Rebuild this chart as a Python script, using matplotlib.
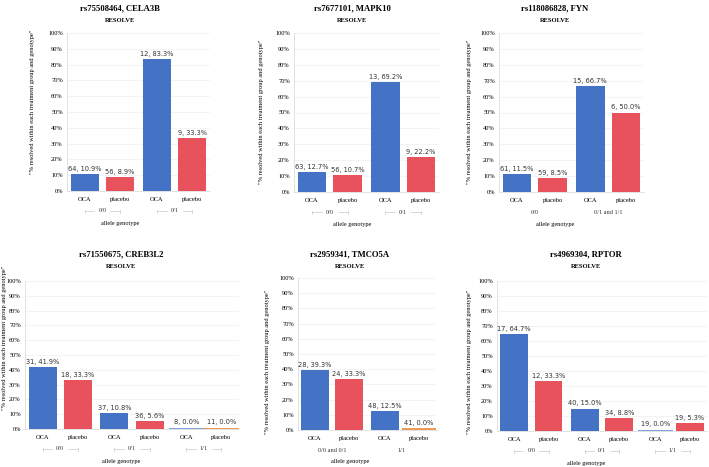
import matplotlib
matplotlib.use('Agg')
import matplotlib.pyplot as plt
from matplotlib.transforms import blended_transform_factory

W, H = 709, 467

titles = ['rs75508464, CELA3B', 'rs7677101, MAPK10', 'rs118086828, FYN',
          'rs71550675, CREB3L2', 'rs2959341, TMCO5A', 'rs4969304, RPTOR']
genotypes = [['0/0', '0/1'], ['0/0', '0/1'], ['0/0', '0/1 and 1/1'],
             ['0/0', '0/1', '1/1'], ['0/0 and 0/1', '1/1'], ['0/0', '0/1', '1/1']]
oca_n = [[64, 12], [63, 13], [61, 15], [31, 37, 8], [28, 48], [17, 40, 19]]
oca_pct = [[10.9, 83.3], [12.7, 69.2], [11.5, 66.7], [41.9, 10.8, 0.0], [39.3, 12.5], [64.7, 15.0, 0.0]]
placebo_n = [[56, 9], [56, 9], [59, 6], [18, 36, 11], [24, 41], [12, 34, 19]]
placebo_pct = [[8.9, 33.3], [10.7, 22.2], [8.5, 50.0], [33.3, 5.6, 0.0], [33.3, 0.0], [33.3, 8.8, 5.3]]
treatments = ['OCA', 'placebo']

# pixel layout: axes (left, right, top, bottom), title centre, ylabel centre
axes_px = [(67, 210, 33, 191), (294, 439, 33, 192), (499, 644, 33, 192),
           (25, 239, 281, 429), (298, 436, 278, 430), (497, 707, 281, 431)]
title_pos = [(120, 8), (352, 8), (555, 8), (121, 254), (350, 254), (586, 254)]
ylabel_pos = [(33, 102), (261, 112), (469, 112), (5, 338), (268, 362), (469, 362)]
dashes = [True, True, False, True, False, True]

BLUE = '#4472c4'
RED = '#e8525c'
ZERO_COLORS = ['#7fa3dc', '#ec9a55']
SERIF = 'Liberation Serif'

fig = plt.figure(figsize=(W / 100, H / 100), dpi=100)


def fx(x):
    return x / W


def fy(y):
    return 1 - y / H


for k in range(6):
    l, r, t, b = axes_px[k]
    ax = fig.add_axes([fx(l), fy(b), fx(r) - fx(l), fy(t) - fy(b)])
    ngroups = len(genotypes[k])
    positions, labels = [], []
    for g in range(ngroups):
        vals = [(oca_n[k][g], oca_pct[k][g]), (placebo_n[k][g], placebo_pct[k][g])]
        for i, (n, p) in enumerate(vals):
            x = g * 2.05 + i
            positions.append(x)
            labels.append(treatments[i])
            if p == 0:
                # zero values are shown as a thin coloured line
                ax.bar(x, 1.0, width=1.0, color=ZERO_COLORS[i], zorder=3)
                top = 1.0
            else:
                ax.bar(x, p, width=0.8, color=BLUE if i == 0 else RED, zorder=3)
                top = p
            ax.annotate(f'{n}, {p:.1f}%', (x, top), xytext=(0, 1.5), textcoords='offset points',
                        ha='center', va='bottom', fontsize=4.8, color='#333333')

    ax.set_xlim(-0.5, positions[-1] + 0.5)
    ax.set_ylim(0, 100)
    ax.set_yticks(range(0, 101, 10))
    ax.set_yticklabels([f'{v}%' for v in range(0, 101, 10)], fontsize=4.6, family=SERIF)
    ax.set_xticks(positions)
    ax.set_xticklabels(labels, fontsize=4.7, family=SERIF)
    ax.tick_params(axis='both', length=0, pad=3)
    ax.tick_params(axis='x', pad=4)
    ax.grid(axis='y', color='#efefef', linewidth=0.5, zorder=0)
    for s in ['top', 'right']:
        ax.spines[s].set_visible(False)
    ax.spines['left'].set_color('#dddddd')
    ax.spines['bottom'].set_color('#dddddd')
    ax.spines['left'].set_linewidth(0.6)
    ax.spines['bottom'].set_linewidth(0.6)

    # genotype group labels under the treatment labels
    trans = blended_transform_factory(ax.transData, ax.transAxes)
    hpx = b - t
    wpx = r - l
    unit = wpx / (positions[-1] + 1.0)
    ylab = -20 / hpx
    for g in range(ngroups):
        x0, x1 = positions[2 * g], positions[2 * g + 1]
        cx = (x0 + x1) / 2
        ax.text(cx, ylab, genotypes[k][g], transform=trans, ha='center', va='center',
                fontsize=4.5, family=SERIF, color='#333333')
        if dashes[k]:
            gap = 8 / unit
            tick = 1.5 / hpx
            for xa, xb in [(x0, cx - gap), (cx + gap, x1)]:
                ax.plot([xa, xb], [ylab, ylab], transform=trans, clip_on=False,
                        color='#bbbbbb', linewidth=0.4)
            for xe in [x0, x1]:
                ax.plot([xe, xe], [ylab - tick, ylab + tick], transform=trans, clip_on=False,
                        color='#bbbbbb', linewidth=0.4)

    tx, ty = title_pos[k]
    fig.text(fx(tx), fy(ty), titles[k], ha='center', va='center', fontsize=6.2,
             fontweight='bold', family=SERIF)
    fig.text(fx(tx), fy(ty + 13), 'RESOLVE', ha='center', va='center', fontsize=4.7,
             fontweight='bold', family=SERIF)
    fig.text(fx(tx), fy(b + 32), 'allele genotype', ha='center', va='center',
             fontsize=4.5, family=SERIF)
    lx, ly = ylabel_pos[k]
    fig.text(fx(lx), fy(ly), '"% resolved within each treatment group and genotype"',
             rotation=90, ha='center', va='center', fontsize=4.6, family=SERIF)

fig.savefig('out.png', dpi=100)
